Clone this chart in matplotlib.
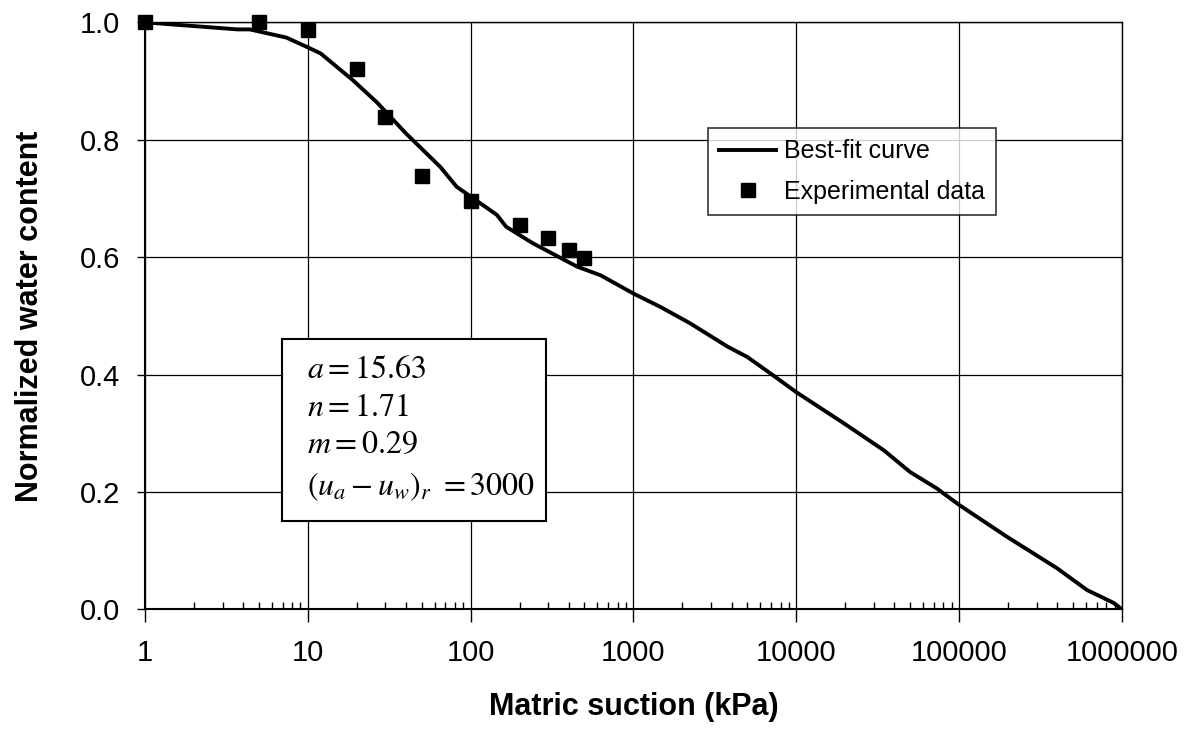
import numpy as np
import matplotlib.pyplot as plt
from matplotlib.patches import Rectangle

# best-fit curve
curve_x = [1, 3.7, 4.4, 7.4, 9.9, 12, 19, 26.5, 40, 65, 82, 145, 165, 240, 450, 630,
           1000, 1470, 2240, 3760, 5000, 7100, 10000, 19600, 34500, 50000, 73000,
           100000, 196000, 400000, 610000, 890000, 1000000]
curve_y = [1.0, 0.988, 0.988, 0.974, 0.958, 0.947, 0.901, 0.864, 0.811, 0.754, 0.720,
           0.672, 0.652, 0.624, 0.584, 0.569, 0.538, 0.515, 0.487, 0.448, 0.430, 0.400,
           0.370, 0.317, 0.271, 0.234, 0.206, 0.178, 0.124, 0.070, 0.033, 0.011, 0.0]

# experimental points
exp_x = [1, 5, 10, 20, 30, 50, 100, 200, 300, 400, 500]
exp_y = [1.0, 1.0, 0.987, 0.921, 0.839, 0.738, 0.696, 0.655, 0.633, 0.612, 0.598]

xticks = [1, 10, 100, 1000, 10000, 100000, 1000000]
xtick_labels = ['1', '10', '100', '1000', '10000', '100000', '1000000']
yticks = [0.0, 0.2, 0.4, 0.6, 0.8, 1.0]

params = [r'$a=15.63$', r'$n=1.71$', r'$m=0.29$', r'$(u_a-u_w)_r\ =3000$']

plt.rcParams['font.family'] = ['Liberation Sans', 'DejaVu Sans']
plt.rcParams['mathtext.fontset'] = 'stix'

fig = plt.figure(figsize=(12.01, 7.45), dpi=100)
ax = fig.add_axes([0.1207, 0.182, 0.8135, 0.788])

ax.plot(curve_x, curve_y, color='black', lw=2.8, label='Best-fit curve', zorder=3,
        solid_joinstyle='round')
ax.plot(exp_x, exp_y, 's', color='black', ms=9.5, label='Experimental data', zorder=4,
        clip_on=False)

ax.set_xscale('log')
ax.set_xlim(1, 1e6)
ax.set_ylim(0, 1)
ax.set_xticks(xticks)
ax.set_xticklabels(xtick_labels)
ax.set_yticks(yticks)
ax.set_yticklabels([f'{v:.1f}' for v in yticks])
ax.xaxis.set_minor_locator(plt.matplotlib.ticker.LogLocator(base=10, subs=np.arange(2, 10)))
ax.xaxis.set_minor_formatter(plt.NullFormatter())

ax.tick_params(axis='x', which='major', direction='out', length=9, width=1, labelsize=21, pad=12)
ax.tick_params(axis='x', which='minor', direction='in', length=5, width=1)
ax.tick_params(axis='y', which='major', direction='out', length=6, width=1, labelsize=21, pad=12)

ax.grid(True, which='major', color='black', lw=0.9)
ax.set_axisbelow(True)
for s in ax.spines.values():
    s.set_linewidth(1.0)
ax.spines['left'].set_linewidth(1.5)
ax.spines['bottom'].set_linewidth(1.5)

ax.set_xlabel('Matric suction (kPa)', fontsize=22, fontweight='bold', labelpad=18)
ax.set_ylabel('Normalized water content', fontsize=22, fontweight='bold', labelpad=25)

leg = ax.legend(loc='upper left', bbox_to_anchor=(0.576, 0.82), borderaxespad=0,
                fontsize=18, frameon=True, fancybox=False, handlelength=2.3,
                handletextpad=0.3, labelspacing=0.65, borderpad=0.45)
leg.get_frame().set_edgecolor('black')
leg.get_frame().set_linewidth(1.2)

ax.add_patch(Rectangle((0.140, 0.150), 0.270, 0.3105, transform=ax.transAxes,
                       facecolor='white', edgecolor='black', lw=1.5, zorder=5))
for t, yb in zip(params, [0.394, 0.329, 0.266, 0.195]):
    ax.text(0.166, yb, t, transform=ax.transAxes, fontsize=23, va='baseline',
            ha='left', zorder=6)

fig.savefig('out.png', dpi=100)
